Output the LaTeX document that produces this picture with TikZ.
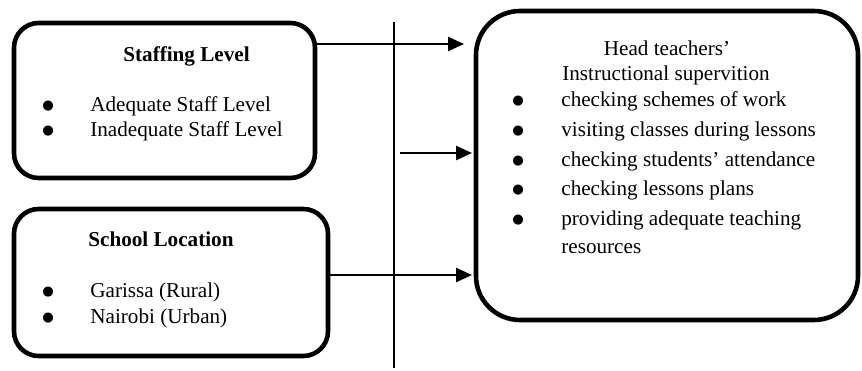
\documentclass[tikz,border=0pt]{standalone}
\usepackage{fontspec}
\setmainfont{Liberation Serif}
\newfontfamily\dotfont{DejaVu Sans}
\usetikzlibrary{arrows.meta,fit}
\newcommand{\bigdot}{\raisebox{1.5pt}{\dotfont\fontsize{7.5}{9}\selectfont ●}}
\begin{document}
\begin{tikzpicture}[x=0.567pt,y=-0.567pt,
  font=\fontsize{12}{14}\selectfont,
  box/.style={draw,line width=2.6pt,rounded corners=14pt,inner sep=0pt},
  bigbox/.style={box,rounded corners=25pt},
  txt/.style={inner sep=0pt,anchor=base west},
  ctxt/.style={inner sep=0pt,anchor=base},
  link/.style={line width=1.1pt,-{Triangle[length=9pt,width=8pt]}},
  divider/.style={line width=0.8pt}]
\useasboundingbox (0,0) rectangle (862,371);

% frame corners of the three blocks
\coordinate (s1) at (14,23);   \coordinate (s2) at (315,178);
\coordinate (l1) at (14,209);  \coordinate (l2) at (328,356);
\coordinate (h1) at (476,11);  \coordinate (h2) at (858,320);

\node[box,fit=(s1)(s2)] (staff) {};
\node[box,fit=(l1)(l2)] (loc) {};
\node[bigbox,fit=(h1)(h2)] (head) {};

% Staffing level block
\node[txt] (stitle) at (123,62) {\textbf{Staffing Level}};
\node[txt] (sb1) at (42,112) {\bigdot};
\node[txt] (st1) at (90,112) {Adequate Staff Level};
\node[txt] (sb2) at (42,137) {\bigdot};
\node[txt] (st2) at (90,137) {Inadequate Staff Level};

% School location block
\node[txt] (ltitle) at (88,247) {\textbf{School Location}};
\node[txt] (lb1) at (42,298) {\bigdot};
\node[txt] (lt1) at (90,298) {Garissa (Rural)};
\node[txt] (lb2) at (42,324) {\bigdot};
\node[txt] (lt2) at (90,324) {Nairobi (Urban)};

% Instructional supervision block
\node[ctxt] (htitle1) at (667,56) {Head teachers’};
\node[ctxt] (htitle2) at (666,81) {Instructional supervition};
\foreach \y/\t [count=\i] in {107/checking schemes of work,
    137/visiting classes during lessons,
    167/checking students’ attendance,
    196/checking lessons plans,
    226/providing adequate teaching} {
  \node[txt] (hb\i) at (512,\y) {\bigdot};
  \node[txt] (ht\i) at (561,\y) {\t};
}
\node[txt] (ht6) at (561,254) {resources};

% vertical divider
\coordinate (vtop) at (394,22);
\coordinate (vbot) at (394,368);
\draw[divider] (vtop) -- (vbot);

% connectors
\coordinate (y1) at (0,44);
\coordinate (a2) at (400,153);
\coordinate (y3) at (0,275);
\draw[link,shorten >=5.5pt] (staff.east |- y1) -- (head.west |- y1);
\draw[link,shorten >=1pt] (a2) -- (head.west |- a2);
\draw[link,shorten >=1pt] (loc.east |- y3) -- (head.west |- y3);
\end{tikzpicture}
\end{document}
